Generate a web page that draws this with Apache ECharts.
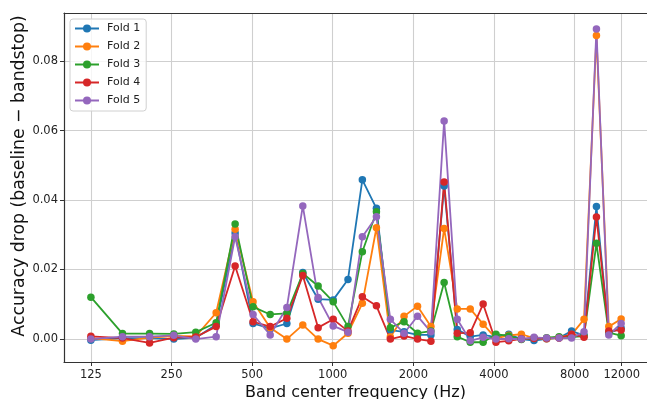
<!DOCTYPE html>
<html>
<head>
<meta charset="utf-8">
<script src="https://cdn.jsdelivr.net/npm/echarts@6/dist/echarts.min.js"></script>
<style>
html,body{margin:0;padding:0;background:#fff;}
#chart{width:647px;height:399px;}
</style>
</head>
<body>
<div id="chart"></div>
<script>
// Band center frequencies (Hz)
const freqs = [125, 164, 207, 255, 308, 367, 432, 504, 584, 674, 773, 882, 1004, 1140, 1290, 1456, 1641, 1846, 2073, 2326, 2606, 2917, 3262, 3644, 4069, 4541, 5063, 5644, 6289, 7002, 7795, 8675, 9652, 10735, 11938];
const xTickValues = [125, 250, 500, 1000, 2000, 4000, 8000, 12000];
const yTickValues = [0, 0.02, 0.04, 0.06, 0.08];
const foldNames = ['Fold 1', 'Fold 2', 'Fold 3', 'Fold 4', 'Fold 5'];

const fold1 = [-0.0004, 0.0002, 0.0002, -0.0001, 0.0003, 0.0040, 0.0305, 0.0044, 0.0030, 0.0044, 0.0191, 0.0114, 0.0112, 0.0171, 0.0458, 0.0376, 0.0025, 0.0020, 0.0011, 0.0011, 0.0440, 0.0027, 0.0006, 0.0011, 0.0005, 0.0013, -0.0001, -0.0005, 0.0000, 0.0003, 0.0022, 0.0010, 0.0381, 0.0017, 0.0030];
const fold2 = [0.0002, -0.0007, 0.0003, 0.0008, 0.0007, 0.0075, 0.0316, 0.0107, 0.0032, -0.0001, 0.0040, -0.0001, -0.0020, 0.0016, 0.0102, 0.0320, 0.0005, 0.0065, 0.0094, 0.0035, 0.0318, 0.0086, 0.0086, 0.0042, 0.0001, 0.0010, 0.0013, 0.0002, 0.0000, 0.0003, 0.0012, 0.0056, 0.0874, 0.0035, 0.0057];
const fold3 = [0.0120, 0.0015, 0.0015, 0.0014, 0.0019, 0.0046, 0.0331, 0.0092, 0.0070, 0.0073, 0.0188, 0.0152, 0.0107, 0.0035, 0.0251, 0.0366, 0.0032, 0.0049, 0.0016, 0.0022, 0.0162, 0.0006, -0.0010, -0.0010, 0.0013, 0.0008, -0.0002, 0.0002, 0.0003, 0.0006, 0.0005, 0.0008, 0.0275, 0.0018, 0.0009];
const fold4 = [0.0007, 0.0002, -0.0012, 0.0003, 0.0005, 0.0035, 0.0210, 0.0049, 0.0035, 0.0059, 0.0182, 0.0032, 0.0056, 0.0022, 0.0121, 0.0095, -0.0001, 0.0008, -0.0001, -0.0007, 0.0452, 0.0016, 0.0017, 0.0100, -0.0010, -0.0006, 0.0000, 0.0001, 0.0001, 0.0002, 0.0013, 0.0004, 0.0351, 0.0022, 0.0025];
const fold5 = [-0.0001, 0.0006, 0.0006, 0.0010, -0.0001, 0.0006, 0.0294, 0.0070, 0.0011, 0.0090, 0.0383, 0.0119, 0.0037, 0.0019, 0.0294, 0.0352, 0.0056, 0.0016, 0.0065, 0.0020, 0.0628, 0.0056, -0.0006, 0.0004, -0.0001, 0.0000, -0.0001, 0.0004, 0.0002, 0.0002, 0.0002, 0.0020, 0.0893, 0.0011, 0.0044];

const folds = [fold1, fold2, fold3, fold4, fold5];
const colors = ['#1f77b4', '#ff7f0e', '#2ca02c', '#d62728', '#9467bd'];

const lg = v => Math.log2(v);
const FONT = 'DejaVu Sans';
const xMin = lg(99.2), xMax = lg(14910);

const chart = echarts.init(document.getElementById('chart'), null, {renderer: 'canvas'});
chart.setOption({
  animation: false,
  backgroundColor: '#fff',
  color: colors,
  textStyle: {fontFamily: FONT},
  grid: {left: 64, top: 13, right: 0, bottom: 37, containLabel: false, outerBoundsMode: 'none'},
  legend: {
    orient: 'vertical',
    left: 70, top: 19,
    itemWidth: 24, itemHeight: 10, itemGap: 7,
    padding: [4, 6, 5, 4],
    backgroundColor: 'rgba(255,255,255,0.8)',
    borderColor: '#d0d0d0', borderWidth: 1, borderRadius: 3,
    textStyle: {fontFamily: FONT, fontSize: 11, color: '#222', padding: [0, 0, 0, 3]},
    data: foldNames
  },
  xAxis: [{
    type: 'value',
    min: xMin, max: xMax,
    name: 'Band center frequency (Hz)',
    nameLocation: 'middle', nameGap: 23, nameMoveOverlap: false,
    nameTextStyle: {fontFamily: FONT, fontSize: 16, color: '#111'},
    axisLine: {onZero: false, lineStyle: {color: '#333', width: 1.2}},
    axisTick: {show: true, length: 4, customValues: xTickValues.map(lg), lineStyle: {color: '#333'}},
    axisLabel: {customValues: xTickValues.map(lg), fontFamily: FONT, fontSize: 11.5, color: '#222', margin: 7,
      formatter: v => String(Math.round(Math.pow(2, v)))},
    splitLine: {show: true, lineStyle: {color: '#cfcfcf', width: 1.1}}
  }, {
    type: 'value', position: 'top',
    min: xMin, max: xMax,
    axisLine: {show: true, onZero: false, lineStyle: {color: '#333', width: 1.2}},
    axisTick: {show: false}, axisLabel: {show: false}, splitLine: {show: false}
  }],
  yAxis: {
    type: 'value',
    min: -0.0067, max: 0.0939,
    name: 'Accuracy drop (baseline \u2212 bandstop)',
    nameLocation: 'middle', nameGap: 36, nameMoveOverlap: false,
    nameTextStyle: {fontFamily: FONT, fontSize: 17.3, color: '#111', padding: [0, 0, 0, 23]},
    axisLine: {show: true, onZero: false, lineStyle: {color: '#333', width: 1.2}},
    axisTick: {show: true, length: 4, customValues: yTickValues, lineStyle: {color: '#333'}},
    axisLabel: {customValues: yTickValues, fontFamily: FONT, fontSize: 11.5, color: '#222', margin: 6,
      formatter: v => v.toFixed(2)},
    splitLine: {show: true, lineStyle: {color: '#cfcfcf', width: 1.1}}
  },
  series: folds.map((d, k) => ({
    name: foldNames[k],
    type: 'line',
    xAxisIndex: 0,
    data: freqs.map((f, i) => [lg(f), d[i]]),
    symbol: 'circle',
    symbolSize: 7.5,
    showSymbol: true,
    lineStyle: {width: 1.8, color: colors[k]},
    itemStyle: {color: colors[k]},
    emphasis: {disabled: true}
  }))
});
</script>
</body>
</html>
